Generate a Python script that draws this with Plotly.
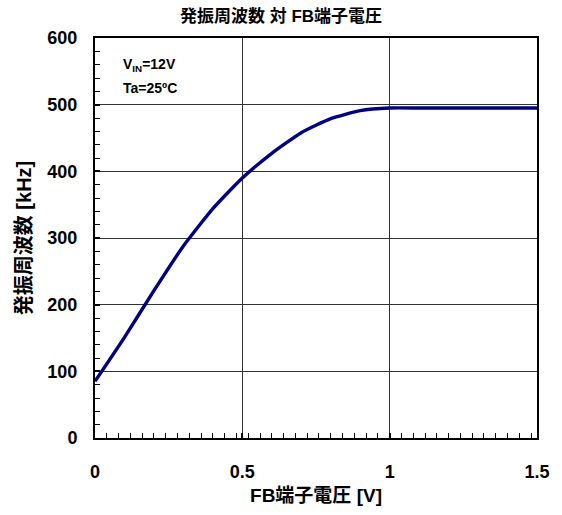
import plotly.graph_objects as go

fb_voltage = [0.0, 0.1, 0.2, 0.3, 0.4, 0.5, 0.6, 0.7, 0.8, 0.9, 1.0, 1.1, 1.2, 1.3, 1.4, 1.5]
frequency_khz = [85, 151, 221, 288, 344, 390, 427, 458, 479, 491, 495, 495, 495, 495, 495, 495]

title_text = "発振周波数 対 FB端子電圧"
x_title = "FB端子電圧 [V]"
y_title = "発振周波数 [kHz]"
x_ticks = [0, 0.5, 1, 1.5]
x_ticklabels = ["0", "0.5", "1", "1.5"]
y_ticks = [0, 100, 200, 300, 400, 500, 600]
note_lines = ["V<sub>IN</sub>=12V", "Ta=25ºC"]

FONT = "Liberation Sans, Arial, Noto Sans CJK JP, sans-serif"

fig = go.Figure()
fig.add_trace(go.Scatter(
    x=fb_voltage, y=frequency_khz, mode="lines",
    line=dict(color="#000080", width=3.4, shape="spline", smoothing=0.5),
    showlegend=False,
))

axis_common = dict(
    showline=True, linecolor="black", linewidth=2, mirror=True,
    showgrid=True, gridcolor="#333333", gridwidth=1.3,
    ticks="inside", ticklen=5, tickcolor="black", tickwidth=1.5,
    zeroline=False,
    tickfont=dict(family=FONT, size=18, color="black", weight="bold"),
)

fig.update_xaxes(
    range=[0, 1.5], tickvals=x_ticks, ticktext=x_ticklabels,
    title=dict(text=x_title, font=dict(family=FONT, size=19, color="black", weight="bold"), standoff=8),
    minor=dict(ticks="inside", dtick=0.04, tick0=0, ticklen=5, tickcolor="black", tickwidth=1.3, showgrid=False),
    ticklabelstandoff=16,
    **axis_common,
)
fig.update_yaxes(
    range=[0, 600], tickvals=y_ticks,
    title=dict(text=y_title, font=dict(family=FONT, size=20, color="black", weight="bold"), standoff=10),
    minor=dict(ticks="inside", dtick=20, tick0=0, ticklen=5, tickcolor="black", tickwidth=1.3, showgrid=False),
    ticklabelstandoff=12,
    **axis_common,
)

for i, line in enumerate(note_lines):
    fig.add_annotation(
        x=0.124, y=0.933 - i * 0.057, xref="paper", yref="paper",
        xanchor="center", yanchor="middle",
        text=line, showarrow=False, align="center",
        font=dict(family=FONT, size=14, color="black", weight="bold"),
    )

fig.update_layout(
    width=562, height=515,
    margin=dict(l=95, r=23, t=38, b=74),
    paper_bgcolor="white", plot_bgcolor="white",
    title=dict(text=title_text, x=0.5, xanchor="center", y=0.968, yanchor="middle",
               font=dict(family=FONT, size=17, color="black", weight="bold")),
)

fig.write_html("out.html")
